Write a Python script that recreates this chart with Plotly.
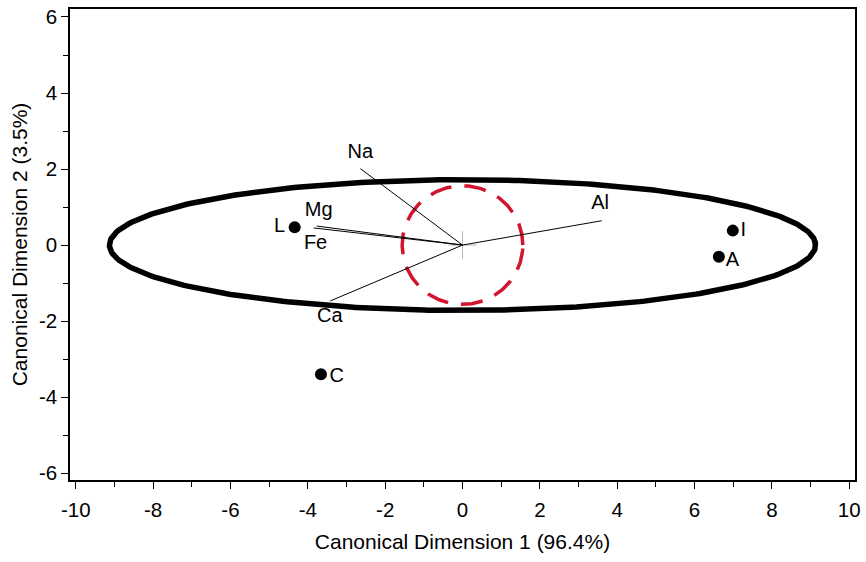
import numpy as np
import plotly.graph_objects as go

# Group means on the first two canonical dimensions
groups = ["L", "I", "A", "C"]
group_x = [-4.34, 6.99, 6.63, -3.66]
group_y = [0.47, 0.38, -0.31, -3.40]

# Element loading vectors (arrow tips)
elements = ["Na", "Al", "Mg", "Fe", "Ca"]
elem_x = [-2.64, 3.60, -3.77, -3.85, -3.42]
elem_y = [2.01, 0.64, 0.50, 0.45, -1.47]

# Label anchor points for the element vectors
elem_label_x = [-2.64, 3.56, -3.72, -3.80, -3.43]
elem_label_y = [2.43, 1.08, 0.89, 0.03, -1.88]

# Label anchor points for the group means
group_label_x = [-4.73, 7.26, 6.98, -3.25]
group_label_y = [0.47, 0.37, -0.42, -3.47]

# Confidence region sizes
ellipse_a, ellipse_b = 9.13, 1.72
circle_r = 1.56
cross_half = 0.37

x_ticks = list(range(-10, 11, 2))
y_ticks = list(range(-6, 7, 2))

FONT = "Liberation Sans, Arial, sans-serif"

fig = go.Figure()

t = np.linspace(0, 2 * np.pi + 0.06, 420)

# Outer ellipse
fig.add_trace(go.Scatter(
    x=ellipse_a * np.cos(t), y=ellipse_b * np.sin(t), mode="lines",
    line=dict(color="black", width=5.5), hoverinfo="skip", showlegend=False))

# Dashed unit circle
tc = np.linspace(0, 2 * np.pi, 400)
fig.add_trace(go.Scatter(
    x=circle_r * np.cos(tc), y=circle_r * np.sin(tc), mode="lines",
    line=dict(color="#d2142e", width=3.5, dash="22px,13px"),
    hoverinfo="skip", showlegend=False))

# Origin cross
fig.add_trace(go.Scatter(
    x=[-cross_half, cross_half, None, 0, 0],
    y=[0, 0, None, -cross_half, cross_half], mode="lines",
    line=dict(color="#b8b8b8", width=1), hoverinfo="skip", showlegend=False))

# Element vectors
vx, vy = [], []
for ex, ey in zip(elem_x, elem_y):
    vx += [0, ex, None]
    vy += [0, ey, None]
fig.add_trace(go.Scatter(
    x=vx, y=vy, mode="lines", line=dict(color="black", width=1),
    hoverinfo="skip", showlegend=False))

fig.add_trace(go.Scatter(
    x=elem_label_x, y=elem_label_y, mode="text", text=elements,
    textfont=dict(family=FONT, size=20, color="black"),
    hoverinfo="skip", showlegend=False))

# Group means
fig.add_trace(go.Scatter(
    x=group_x, y=group_y, mode="markers",
    marker=dict(color="black", size=12), showlegend=False))
fig.add_trace(go.Scatter(
    x=group_label_x, y=group_label_y, mode="text", text=groups,
    textfont=dict(family=FONT, size=20, color="black"),
    hoverinfo="skip", showlegend=False))

axis_common = dict(
    showgrid=False, zeroline=False, showline=True, linecolor="black",
    linewidth=1.5, mirror=True, ticks="outside", ticklen=7, tickwidth=1,
    tickcolor="black", tickfont=dict(family=FONT, size=20.5, color="black"),
)

fig.update_xaxes(
    range=[-10.15, 10.15], tickvals=x_ticks,
    ticktext=[str(v) for v in x_ticks], ticklabelstandoff=4,
    minor=dict(tickvals=list(range(-9, 10, 2)), ticks="outside", ticklen=5,
               tickcolor="black", tickwidth=1),
    title=dict(text="Canonical Dimension 1 (96.4%)",
               font=dict(family=FONT, size=21, color="black"), standoff=14),
    **axis_common)
fig.update_yaxes(
    range=[-6.18, 6.21], tickvals=y_ticks,
    ticktext=[str(v) for v in y_ticks],
    minor=dict(tickvals=list(range(-5, 6, 2)), ticks="outside", ticklen=5,
               tickcolor="black", tickwidth=1),
    title=dict(text="Canonical Dimension 2 (3.5%)",
               font=dict(family=FONT, size=21, color="black"), standoff=6),
    **axis_common)

fig.update_layout(
    width=866, height=562,
    margin=dict(l=70, r=6, t=5, b=82),
    plot_bgcolor="white", paper_bgcolor="white",
    showlegend=False,
)

fig.write_html("out.html")
